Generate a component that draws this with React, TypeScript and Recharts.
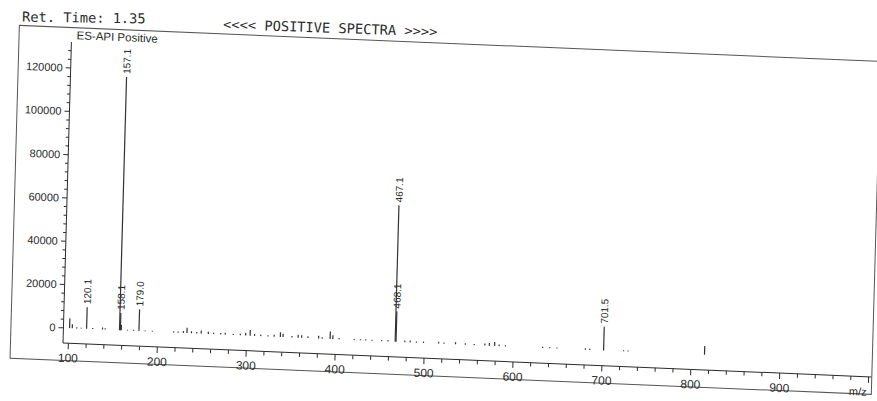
import React from "react";
import { ComposedChart, Bar, XAxis, YAxis } from "recharts";

// labelled peaks
const peakMz = [120.1, 157.1, 158.1, 179.0, 467.1, 468.1, 701.5];
const peakIntensity = [10000, 117000, 8000, 10000, 63000, 14000, 11000];
const peakText = ["120.1", "157.1", "158.1", "179.0", "467.1", "468.1", "701.5"];

// small unlabelled lines along the baseline
const noiseMz = [
  101, 104, 109, 114, 127, 138, 141, 159.1, 166, 173, 186, 194, 218, 223, 229, 233,
  238, 244, 249, 257, 263, 271, 276, 285, 293, 299, 304, 309, 316, 324, 331, 338,
  341, 351, 358, 362, 369, 381, 385, 394, 397, 404, 421, 428, 434, 441, 452, 459,
  478, 484, 491, 499, 516, 522, 535, 546, 556, 568, 573, 579, 584, 591, 633, 641,
  649, 681, 686, 724, 729, 815,
];
const noiseIntensity = [
  4500, 1800, 500, 400, 500, 900, 600, 2500, 400, 500, 400, 350, 600, 500, 900, 2400,
  900, 700, 1400, 1000, 600, 700, 900, 500, 700, 1300, 2600, 900, 700, 500, 900, 2200,
  1500, 700, 1400, 1200, 800, 1300, 700, 3500, 1800, 600, 500, 500, 600, 500, 500, 600,
  700, 900, 500, 600, 800, 600, 900, 700, 500, 900, 1200, 1800, 700, 500, 500, 500,
  500, 700, 600, 500, 500, 4000,
];

const xLabelTicks = [100, 200, 300, 400, 500, 600, 700, 800, 900];
const yLabelTicks = [0, 20000, 40000, 60000, 80000, 100000, 120000];

// minor tick marks: every 20 m/z, every 4000 counts
const xTicks = Array.from({ length: 46 }, (_, i) => 100 + i * 20);
const yTicks = Array.from({ length: 33 }, (_, i) => i * 4000);

const spectrum = [
  ...peakMz.map((mz, i) => ({ mz, intensity: peakIntensity[i], label: peakText[i] })),
  ...noiseMz.map((mz, i) => ({ mz, intensity: noiseIntensity[i], label: "" })),
].sort((a, b) => a.mz - b.mz);

const INK = "#2b2b2b";
const SANS = "'Liberation Sans', Arial, sans-serif";
const MONO = "'DejaVu Sans Mono', monospace";

const Stick = (p: any) => {
  const { x, y, width, height, payload } = p;
  if (height == null || isNaN(height)) return null;
  const cx = x + width / 2;
  const ty = y - 3;
  return (
    <g>
      <rect x={cx - 0.6} y={y} width={1.2} height={Math.max(height, 0.8)} fill="#333" />
      {payload?.label ? (
        <text
          x={cx}
          y={ty}
          transform={`rotate(-90 ${cx} ${ty})`}
          textAnchor="start"
          dominantBaseline="central"
          fontSize={10}
          fontFamily={SANS}
          fill={INK}
        >
          {payload.label}
        </text>
      ) : null}
    </g>
  );
};

const YTick = ({ x, y, payload }: any) => {
  const major = yLabelTicks.includes(payload.value);
  return (
    <g>
      <line x1={x - (major ? 5 : 3)} x2={x} y1={y} y2={y} stroke={INK} />
      {major && (
        <text x={x - 8} y={y} dy="0.35em" textAnchor="end" fontSize={11} fontFamily={SANS} fill={INK}>
          {payload.value}
        </text>
      )}
    </g>
  );
};

const XTick = ({ x, y, payload }: any) => {
  const major = payload.value % 100 === 0;
  return (
    <g>
      <line x1={x} x2={x} y1={y} y2={y + (major ? 6 : 4)} stroke={INK} />
      {xLabelTicks.includes(payload.value) && (
        <text x={x} y={y + 19} textAnchor="middle" fontSize={12} fontFamily={SANS} fill={INK}>
          {payload.value}
        </text>
      )}
    </g>
  );
};

export default function App() {
  return (
    <div
      style={{
        position: "absolute",
        left: 0,
        top: 0,
        width: 877,
        height: 401,
        overflow: "hidden",
        background: "#fff",
      }}
    >
      <svg width={877} height={401} style={{ position: "absolute", left: 0, top: 0 }}>
        <text x={22} y={21.5} fontFamily={MONO} fontSize={13.7} fill={INK} transform="rotate(0.9 22 21.5)">
          Ret. Time: 1.35
        </text>
        <text x={223} y={29} fontFamily={MONO} fontSize={13.7} fill={INK} transform="rotate(2 223 29)">
          {"<<<< POSITIVE SPECTRA >>>>"}
        </text>
      </svg>
      <div
        style={{
          position: "absolute",
          left: 0,
          top: 0,
          width: 877,
          height: 401,
          transform: "rotate(2.4deg) skewX(0.8deg)",
          transformOrigin: "63px 343px",
        }}
      >
        <div
          style={{
            position: "absolute",
            left: 10,
            top: 27,
            width: 861,
            height: 332,
            border: "1px solid #555",
          }}
        />
        <div style={{ position: "absolute", left: 0, top: 0 }}>
          <ComposedChart
            width={877}
            height={401}
            data={spectrum}
            margin={{ top: 42, right: 5, bottom: 28, left: 13 }}
          >
            <XAxis
              type="number"
              dataKey="mz"
              domain={[94, 1003]}
              ticks={xTicks}
              interval={0}
              allowDataOverflow
              height={30}
              tickSize={0}
              tickMargin={0}
              tickLine={false}
              tick={<XTick />}
              axisLine={{ stroke: INK }}
            />
            <YAxis
              type="number"
              domain={[-7000, 132000]}
              ticks={yTicks}
              interval={0}
              allowDataOverflow
              width={50}
              tickSize={0}
              tickMargin={0}
              tickLine={false}
              tick={<YTick />}
              axisLine={{ stroke: INK }}
            />
            <Bar dataKey="intensity" barSize={1.2} shape={<Stick />} isAnimationActive={false} />
          </ComposedChart>
        </div>
        <div
          style={{
            position: "absolute",
            left: 68,
            top: 28.5,
            fontFamily: SANS,
            fontSize: 11.5,
            color: INK,
            lineHeight: "12px",
          }}
        >
          ES-API Positive
        </div>
        <div
          style={{
            position: "absolute",
            left: 850,
            top: 352,
            fontFamily: SANS,
            fontSize: 11,
            color: INK,
            lineHeight: "12px",
          }}
        >
          m/z
        </div>
      </div>
    </div>
  );
}
